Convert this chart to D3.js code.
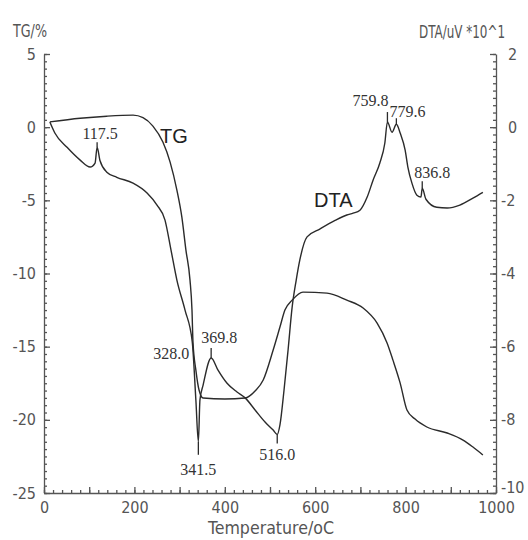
<!DOCTYPE html>
<html>
<head>
<meta charset="utf-8">
<script src="https://cdn.jsdelivr.net/npm/d3@7"></script>
<style>
    body { margin: 0; background: #fff; }
    .tick text, .axis-title { font-family: "Liberation Sans Narrow", "DejaVu Sans Condensed", "Liberation Sans", sans-serif; font-stretch: condensed; fill: #555; }
    .peak { font-family: "Liberation Serif", "DejaVu Serif", serif; font-size: 16px; fill: #333; }
    .curve-name { font-family: "Liberation Sans", Arial, sans-serif; font-size: 20px; fill: #222; }
</style>
</head>
<body>
<svg id="chart" width="528" height="540"></svg>
<script>
// TG curve, temperature (oC) and mass change (%)
const tgTemp = [13, 80, 139, 197, 219, 241, 263, 279, 294, 305, 314, 323, 327.4, 329.6, 336, 343, 352,
    400, 445, 467, 485, 507, 522, 533, 549, 573, 626, 670, 706, 737, 759, 772, 788, 803, 821, 847, 892, 927, 949, 971];
const tgValue = [0.36, 0.61, 0.75, 0.82, 0.65, 0.07, -1.02, -2.39, -4.3, -6.15, -8.4, -10.45, -12.5, -14.69, -16.6, -17.96, -18.51,
    -18.58, -18.51, -18.03, -17.28, -15.23, -13.66, -12.5, -11.82, -11.27, -11.34, -11.82, -12.36, -13.39, -14.75, -15.92, -17.49, -19.33, -19.95, -20.49, -20.9, -21.38, -21.86, -22.4];

// DTA curve, temperature (oC) and signal (uV *10^1)
const dtaTemp = [13, 24, 51, 80, 102, 113, 117.5, 124, 139, 161, 197, 228, 250, 267.7, 281, 294, 312, 328,
    336, 341.5, 345, 352, 369.8, 385, 405, 427, 445, 467, 489, 507, 516, 522, 531, 540, 549, 558, 566, 582,
    611, 644, 670, 684, 699, 715, 728, 743, 754, 759.8, 770, 779.6, 788, 799, 805, 814, 825, 834, 836.8, 845,
    869, 892, 920, 949, 971];
const dtaValue = [0.14, -0.16, -0.55, -0.9, -1.09, -0.98, -0.55, -0.92, -1.23, -1.37, -1.53, -1.8, -2.13, -2.54, -3.36, -4.18, -5.0, -5.87,
    -7.46, -8.6, -7.46, -7.05, -6.31, -6.64, -7.0, -7.24, -7.4, -7.73, -8.06, -8.28, -8.4, -8.14, -7.19, -6.09, -4.92, -4.18, -3.63, -3.0,
    -2.78, -2.55, -2.4, -2.35, -2.27, -1.91, -1.45, -0.98, -0.44, 0.14, -0.14, 0.08, -0.16, -0.63, -1.09, -1.53, -1.86, -1.91, -1.67, -1.97,
    -2.19, -2.21, -2.13, -1.94, -1.78];

// marked peaks on the DTA curve
const peakTemp = [117.5, 328.0, 341.5, 369.8, 516.0, 759.8, 779.6, 836.8];
const peakDta = [-0.55, -5.87, -8.6, -6.31, -8.4, 0.14, 0.08, -1.67];
const peakLabels = ["117.5", "328.0", "341.5", "369.8", "516.0", "759.8", "779.6", "836.8"];

const xTicks = [0, 200, 400, 600, 800, 1000];
const tgTicks = [5, 0, -5, -10, -15, -20, -25];
const dtaTicks = [2, 0, -2, -4, -6, -8, -10];

// where each peak note sits relative to its mark (pixels)
const peakNote = [
    {tick: -5, dx: 3, dy: -8, anchor: "middle"},
    {tick: 0, dx: -3, dy: 17, anchor: "end"},
    {tick: 13, dx: 0, dy: 33, anchor: "middle"},
    {tick: -10, dx: 8, dy: -15, anchor: "middle"},
    {tick: 9, dx: 0, dy: 26, anchor: "middle"},
    {tick: -10, dx: 1, dy: -16, anchor: "end"},
    {tick: -6, dx: -7, dy: -7, anchor: "start"},
    {tick: -7, dx: 10, dy: -10, anchor: "middle"}
];

const svg = d3.select("#chart");
const margin = {top: 54, right: 32, bottom: 47, left: 44};
const width = +svg.attr("width");
const height = +svg.attr("height");

const x = d3.scaleLinear().domain([0, 1000]).range([margin.left, width - margin.right]);
const yTG = d3.scaleLinear().domain([-25, 5]).range([height - margin.bottom, margin.top]);
const yDTA = d3.scaleLinear().domain([-10, 2]).range([height - margin.bottom, margin.top]);

const axisColor = "#555";
const lineColor = "#2b2b2b";
const bottomY = height - margin.bottom;
const rightX = width - margin.right;

function styleAxis(g) {
    g.selectAll("path, line").attr("stroke", axisColor).attr("stroke-width", 1.3);
    g.selectAll("text").style("font-size", "16px");
}

// minor ticks
svg.append("g")
    .attr("transform", "translate(0," + bottomY + ")")
    .call(d3.axisBottom(x).tickValues(d3.range(0, 1001, 20)).tickSize(-3).tickFormat(""))
    .call(g => g.select(".domain").remove())
    .call(styleAxis);
svg.append("g")
    .attr("transform", "translate(" + margin.left + ",0)")
    .call(d3.axisLeft(yTG).tickValues(d3.range(-25, 5.01, 0.5)).tickSize(-3).tickFormat(""))
    .call(g => g.select(".domain").remove())
    .call(styleAxis);
svg.append("g")
    .attr("transform", "translate(" + rightX + ",0)")
    .call(d3.axisRight(yDTA).tickValues(d3.range(-10, 2.01, 0.2)).tickSize(-3).tickFormat(""))
    .call(g => g.select(".domain").remove())
    .call(styleAxis);

// major ticks + labels
svg.append("g")
    .attr("transform", "translate(0," + bottomY + ")")
    .call(d3.axisBottom(x).tickValues(d3.range(0, 1001, 100)).tickSize(-6).tickSizeOuter(0).tickPadding(9)
        .tickFormat(d => xTicks.includes(d) ? String(d) : ""))
    .call(styleAxis);
svg.append("g")
    .attr("transform", "translate(" + margin.left + ",0)")
    .call(d3.axisLeft(yTG).tickValues(tgTicks).tickSize(-6).tickSizeOuter(0).tickPadding(8)
        .tickFormat(d => String(d)))
    .call(styleAxis);
svg.append("g")
    .attr("transform", "translate(" + rightX + ",0)")
    .call(d3.axisRight(yDTA).tickValues(dtaTicks).tickSize(-6).tickSizeOuter(0).tickPadding(5)
        .tickFormat(d => String(d)))
    .call(styleAxis)
    .call(g => g.selectAll("text")
        .attr("dx", d => d >= 0 ? 7 : 0)
        .attr("dy", d => d === -10 ? "-0.05em" : "0.32em"));

// axis titles
svg.append("text").attr("class", "axis-title")
    .attr("x", 13).attr("y", 37).attr("textLength", 34).attr("lengthAdjust", "spacingAndGlyphs")
    .style("font-size", "17px").text("TG/%");
svg.append("text").attr("class", "axis-title")
    .attr("x", 419).attr("y", 38).attr("textLength", 86).attr("lengthAdjust", "spacingAndGlyphs")
    .style("font-size", "17px").text("DTA/uV *10^1");
svg.append("text").attr("class", "axis-title")
    .attr("x", 208).attr("y", 534).attr("textLength", 126).attr("lengthAdjust", "spacingAndGlyphs")
    .style("font-size", "17px").text("Temperature/oC");

// curves
const tgLine = d3.line()
    .x((d, i) => x(tgTemp[i]))
    .y(d => yTG(d))
    .curve(d3.curveMonotoneX);
const dtaLine = d3.line()
    .x((d, i) => x(dtaTemp[i]))
    .y(d => yDTA(d))
    .curve(d3.curveMonotoneX);

svg.append("path").datum(tgValue)
    .attr("d", tgLine)
    .attr("fill", "none").attr("stroke", lineColor).attr("stroke-width", 1.4);
svg.append("path").datum(dtaValue)
    .attr("d", dtaLine)
    .attr("fill", "none").attr("stroke", lineColor).attr("stroke-width", 1.4);

// peak marks
peakTemp.forEach(function (t, i) {
    let px = x(t), py = yDTA(peakDta[i]), note = peakNote[i];
    if (note.tick !== 0) {
        svg.append("line")
            .attr("x1", px).attr("x2", px)
            .attr("y1", py).attr("y2", py + note.tick)
            .attr("stroke", lineColor).attr("stroke-width", 1.3);
    }
    svg.append("text").attr("class", "peak")
        .attr("x", px + note.dx).attr("y", py + note.dy)
        .attr("text-anchor", note.anchor)
        .text(peakLabels[i]);
});

// curve names
svg.append("text").attr("class", "curve-name").attr("x", 160).attr("y", 143).text("TG");
svg.append("text").attr("class", "curve-name").attr("x", 314).attr("y", 207).text("DTA");
</script>
</body>
</html>
